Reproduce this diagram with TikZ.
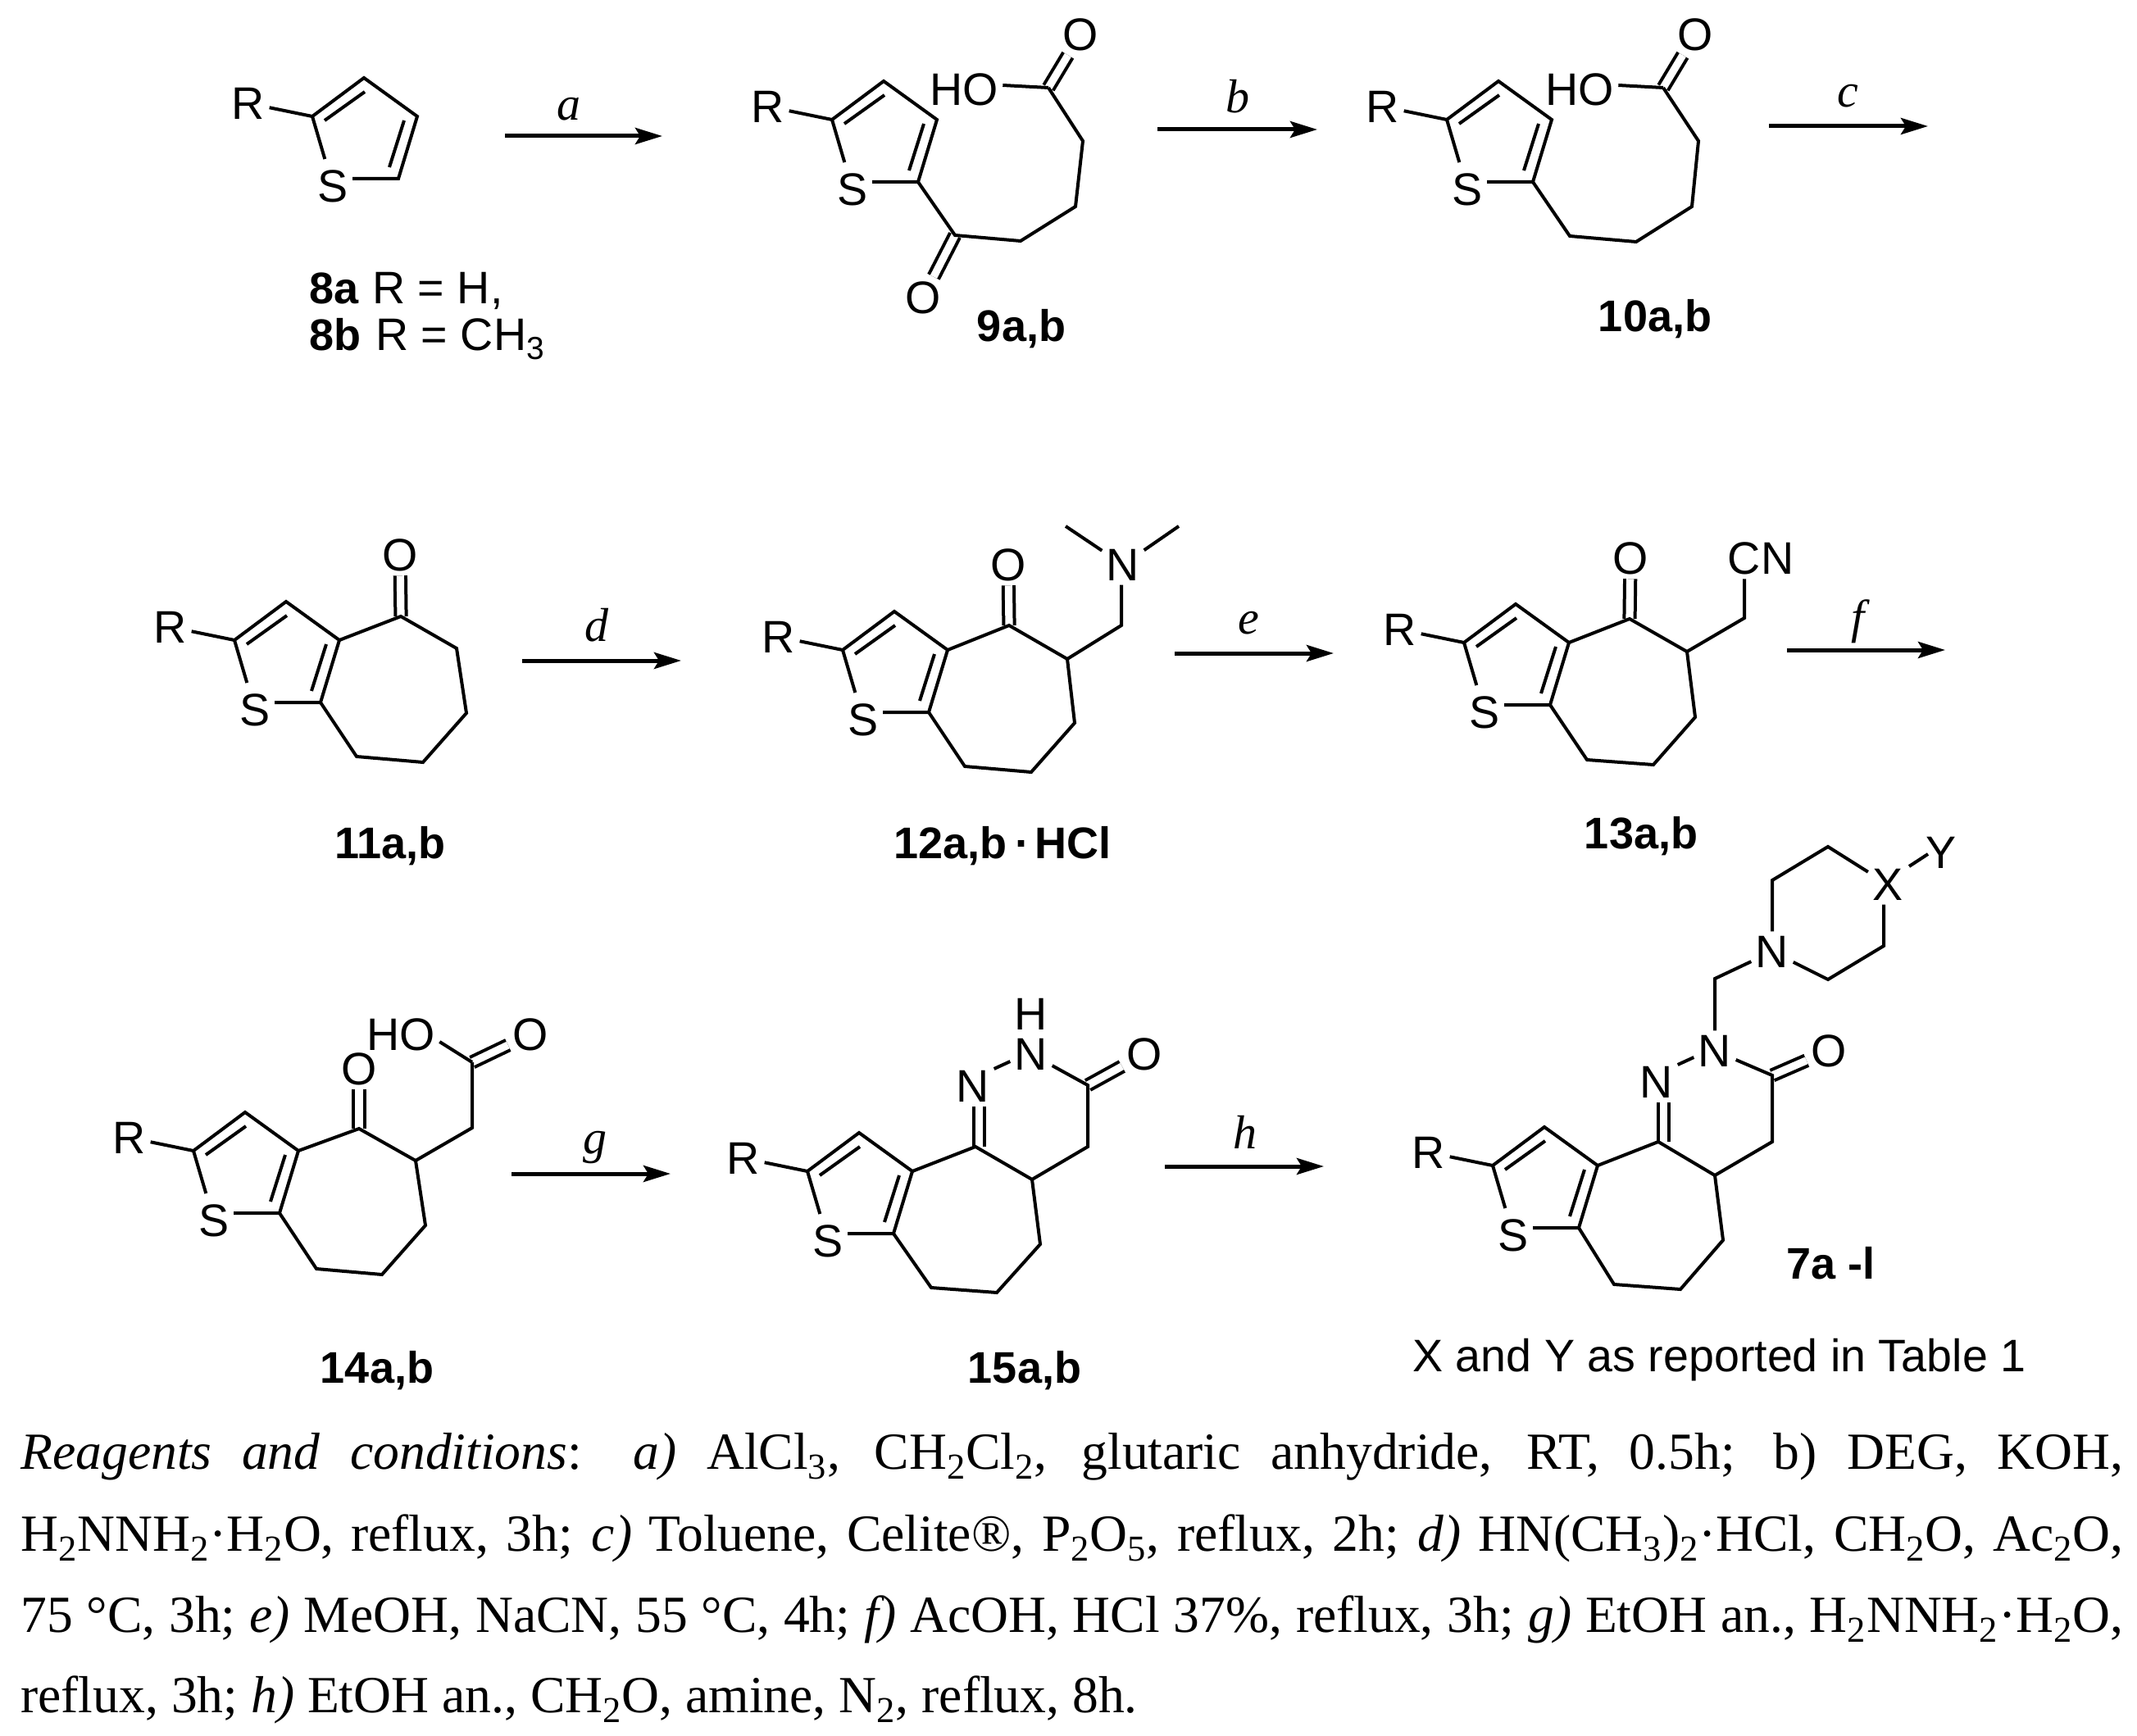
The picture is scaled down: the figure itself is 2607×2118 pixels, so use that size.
\documentclass[tikz,border=0pt]{standalone}
\usepackage{fontspec}
\setmainfont{Liberation Serif}
\newfontfamily\arialfam{Liberation Sans}
\usetikzlibrary{arrows.meta,calc}
\newcommand{\low}[1]{\textsubscript{#1}}
\tikzset{
  x=0.5pt,y=-0.5pt,
  bond/.style={line width=2pt,line cap=butt,line join=miter},
  dbl/.style={line width=2pt,double,double distance=4.6pt},
  atom/.style={inner sep=2.6pt,font=\fontsize{27.8pt}{30pt}\selectfont\arialfam},
  lbl/.style={inner sep=0pt,anchor=base,font=\fontsize{27pt}{30pt}\selectfont\arialfam\bfseries},
  plainlbl/.style={inner sep=0pt,anchor=base west,font=\fontsize{27.8pt}{30pt}\selectfont\arialfam},
  rxnarrow/.style={line width=2.5pt,-{Stealth[length=16.5pt,width=10pt,inset=3pt]}},
  rxnlabel/.style={inner sep=0pt,font=\fontsize{29pt}{30pt}\selectfont\itshape},
  capline/.style={inner sep=0pt,anchor=base west,font=\fontsize{31.8pt}{36pt}\selectfont}
}
% thiophene: prefix, position of C2
\newcommand{\thio}[3]{%
  \begin{scope}[shift={(#2,#3)}]
    \coordinate (#1c2) at (0,0);
    \coordinate (#1c3) at (63,-47);
    \coordinate (#1c4) at (128,0);
    \coordinate (#1c5) at (105,76);
    \coordinate (#1ia) at (15,5);
    \coordinate (#1ib) at (64,-30);
    \coordinate (#1ic) at (112,5);
    \coordinate (#1id) at (94,62);
    \node[atom] (#1r) at (-78,-16) {R};
    \node[atom] (#1s) at (25,85) {S};
    \draw[bond] (#1r) -- (#1c2);
    \draw[bond] (#1c2) -- (#1c3) -- (#1c4) -- (#1c5) -- (#1s.east |- #1c5);
    \draw[bond,shorten >=4pt] (#1c2) -- (#1s);
    \draw[bond] (#1ia) -- (#1ib);
    \draw[bond] (#1ic) -- (#1id);
  \end{scope}}
% reaction arrow: name, x1, x2, y, label, label x, label y
\newcommand{\rxn}[7]{%
  \coordinate (#1s) at (#2,#4);
  \coordinate (#1e) at (#3,#4);
  \draw[rxnarrow] (#1s) -- (#1e);
  \node[rxnlabel] (#1l) at (#6,#7) {#5};}
\begin{document}
\begin{tikzpicture}
\path[use as bounding box,fill=white] (0,0) rectangle (2607,2118);

% ---------- 8
\thio{h}{381}{142}
\node[lbl,anchor=base west] (l8a) at (377,371) {8a};
\node[plainlbl] (l8ar) at (454,371) {R = H,};
\node[lbl,anchor=base west] (l8b) at (377,428) {8b};
\node[plainlbl] (l8br) at (458,428) {R = CH\low{3}};
\rxn{ra}{616}{808}{166}{a}{694}{133}

% ---------- 9
\thio{i}{1015}{146}
\coordinate (ik) at (1165,287);
\coordinate (i1) at (1245,294);
\coordinate (i2) at (1312,252);
\coordinate (i3) at (1321,172);
\coordinate (ic) at (1279,107);
\node[atom] (io) at (1126,363) {O};
\node[atom] (io2) at (1318,42) {O};
\node[atom] (iho) at (1176,109) {HO};
\draw[dbl] (ik) -- (io);
\draw[dbl] (ic) -- (io2);
\draw[bond] (ic5) -- (ik) -- (i1) -- (i2) -- (i3) -- (ic);
\draw[bond] ([yshift=2.5pt]iho.east) -- (ic);
\node[lbl] (l9) at (1246,417) {9a,b};
\rxn{rb}{1412}{1607}{158}{b}{1510}{118}

% ---------- 10
\thio{j}{1765}{146}
\coordinate (j0) at (1915,288);
\coordinate (j1) at (1996,295);
\coordinate (j2) at (2064,252);
\coordinate (j3) at (2072,172);
\coordinate (jc) at (2029,107);
\node[atom] (jo2) at (2068,42) {O};
\node[atom] (jho) at (1927,109) {HO};
\draw[dbl] (jc) -- (jo2);
\draw[bond] (jc5) -- (j0) -- (j1) -- (j2) -- (j3) -- (jc);
\draw[bond] ([yshift=2.5pt]jho.east) -- (jc);
\node[lbl] (l10) at (2019,405) {10a,b};
\rxn{rc}{2158}{2352}{154}{c}{2254}{117}

% ---------- 11
\thio{k}{286}{781}
\coordinate (kk) at (489,752);
\coordinate (k1) at (557,791);
\coordinate (k2) at (569,870);
\coordinate (k3) at (516,930);
\coordinate (k4) at (435,923);
\node[atom] (ko) at (488,677) {O};
\draw[dbl] (kk) -- (ko);
\draw[bond] (kc4) -- (kk) -- (k1) -- (k2) -- (k3) -- (k4) -- (kc5);
\node[lbl] (l11) at (476,1047) {11a,b};
\rxn{rd}{637}{831}{806}{d}{728}{763}

% ---------- 12
\thio{m}{1028}{793}
\coordinate (mk) at (1231,763);
\coordinate (m1) at (1302,804);
\coordinate (m2) at (1311,882);
\coordinate (m3) at (1258,942);
\coordinate (m4) at (1177,935);
\coordinate (mch) at (1368,763);
\coordinate (mme1) at (1300,642);
\coordinate (mme2) at (1438,642);
\node[atom] (mo) at (1230,689) {O};
\node[atom] (mn) at (1370,689) {N};
\draw[dbl] (mk) -- (mo);
\draw[bond] (mc4) -- (mk) -- (m1) -- (m2) -- (m3) -- (m4) -- (mc5);
\draw[bond] (m1) -- (mch) -- (mch |- mn.south);
\draw[bond] (mn) -- (mme1);
\draw[bond] (mn) -- (mme2);
\node[lbl,anchor=base west] (l12) at (1090,1047) {12a,b\hspace{5pt}\textperiodcentered\hspace{3pt}HCl};
\rxn{re}{1433}{1627}{797}{e}{1523}{760}

% ---------- 13
\thio{n}{1786}{784}
\coordinate (nk) at (1988,755);
\coordinate (n1) at (2058,795);
\coordinate (n2) at (2068,875);
\coordinate (n3) at (2017,933);
\coordinate (n4) at (1936,927);
\coordinate (nch) at (2128,754);
\node[atom] (no) at (1989,681) {O};
\node[atom] (ncn) at (2148,681) {CN};
\draw[dbl] (nk) -- (no);
\draw[bond] (nc4) -- (nk) -- (n1) -- (n2) -- (n3) -- (n4) -- (nc5);
\draw[bond] (n1) -- (nch) -- (nch |- ncn.south);
\node[lbl] (l13) at (2002,1035) {13a,b};
\rxn{rf}{2180}{2373}{793}{f}{2267}{758}

% ---------- 14
\thio{p}{236}{1404}
\coordinate (pk) at (438,1377);
\coordinate (p1) at (507,1416);
\coordinate (p2) at (519,1495);
\coordinate (p3) at (466,1555);
\coordinate (p4) at (386,1548);
\coordinate (pch) at (576,1376);
\coordinate (pc) at (576,1296);
\node[atom] (po) at (438,1304) {O};
\node[atom] (pho) at (489,1262) {HO};
\node[atom] (po2) at (647,1262) {O};
\draw[dbl] (pk) -- (po);
\draw[dbl] (pc) -- (po2);
\draw[bond] (pc4) -- (pk) -- (p1) -- (p2) -- (p3) -- (p4) -- (pc5);
\draw[bond] (p1) -- (pch) -- (pc);
\draw[bond] ([yshift=-4.5pt]pho.east) -- (pc);
\node[lbl] (l14) at (460,1687) {14a,b};
\rxn{rg}{624}{818}{1432}{g}{726}{1400}

% ---------- 15
\thio{q}{985}{1429}
\coordinate (qk) at (1190,1399);
\coordinate (qd) at (1194.5,1399);
\coordinate (q1) at (1259,1439);
\coordinate (q2) at (1269,1518);
\coordinate (q3) at (1216,1577);
\coordinate (q4) at (1136,1571);
\coordinate (qch) at (1327,1399);
\coordinate (qc) at (1327,1324);
\node[atom] (qn1) at (1187,1325) {N};
\node[atom] (qn2) at (1258,1286) {N};
\node[atom] (qh) at (1258,1237) {H};
\node[atom] (qo) at (1396,1286) {O};
\draw[dbl] (qd) -- (qd |- qn1.south);
\draw[dbl] (qc) -- (qo);
\draw[bond] (qc4) -- (qk) -- (q1) -- (q2) -- (q3) -- (q4) -- (qc5);
\draw[bond] (q1) -- (qch) -- (qc) -- (qn2);
\draw[bond] ([yshift=10.5pt]qn1.east) -- ([yshift=-4.5pt]qn2.west);
\node[lbl] (l15) at (1250,1687) {15a,b};
\rxn{rh}{1421}{1615}{1423}{h}{1519}{1381}

% ---------- 7
\thio{t}{1821}{1422}
\coordinate (tk) at (2023,1393);
\coordinate (td) at (2029.5,1393);
\coordinate (t1) at (2092,1434);
\coordinate (t2) at (2102,1513);
\coordinate (t3) at (2050,1573);
\coordinate (t4) at (1969,1567);
\coordinate (tch) at (2162,1393);
\coordinate (tc) at (2162,1312);
\coordinate (tm) at (2092,1194);
\coordinate (ta) at (2162,1074);
\coordinate (tb) at (2230,1033);
\coordinate (te) at (2298,1154);
\coordinate (tf) at (2230,1195);
\coordinate (txa) at (2329,1057);
\coordinate (txb) at (2352,1042);
\node[atom] (tn1) at (2021,1320) {N};
\node[atom] (tn2) at (2092,1282) {N};
\node[atom] (to) at (2231,1282) {O};
\node[atom] (tn3) at (2162,1161) {N};
\node[atom] (tx) at (2303,1079) {X};
\node[atom] (ty) at (2368,1040) {Y};
\draw[dbl] (td) -- (td |- tn1.south);
\draw[dbl] (tc) -- (to);
\draw[bond] (tc4) -- (tk) -- (t1) -- (t2) -- (t3) -- (t4) -- (tc5);
\draw[bond] (t1) -- (tch) -- (tc) -- (tn2);
\draw[bond] ([yshift=10.5pt]tn1.east) -- ([yshift=-4pt]tn2.west);
\draw[bond] (tn2) -- (tm) -- (tn3);
\draw[bond] (tn3) -- (ta) -- (tb) -- (tx);
\draw[bond] (te |- tx.south) -- (te) -- (tf) -- (tn3);
\draw[bond] (txa) -- (txb);
\node[lbl,anchor=base west] (l7) at (2179,1560) {7a -l};
\node[plainlbl] (tbl) at (1723,1673) {X and Y as reported in Table 1};

% ---------- caption
\node[capline] (cap1) at (25,1792) {\hbox to 1282.5pt{\textit{Reagents and conditions}: \textit{a)} AlCl\low{3}, CH\low{2}Cl\low{2}, glutaric anhydride, RT, 0.5h; b) DEG, KOH,}};
\node[capline] (cap2) at (25,1892) {\hbox to 1282.5pt{H\low{2}NNH\low{2}·H\low{2}O, reflux, 3h; \textit{c)} Toluene, Celite®, P\low{2}O\low{5}, reflux, 2h; \textit{d)} HN(CH\low{3})\low{2}·HCl, CH\low{2}O, Ac\low{2}O,}};
\node[capline] (cap3) at (25,1991) {\hbox to 1282.5pt{75 °C, 3h; \textit{e)} MeOH, NaCN, 55 °C, 4h; \textit{f)} AcOH, HCl 37\%, reflux, 3h; \textit{g)} EtOH an., H\low{2}NNH\low{2}·H\low{2}O,}};
\node[capline] (cap4) at (25,2089) {reflux, 3h; \textit{h)} EtOH an., CH\low{2}O, amine, N\low{2}, reflux, 8h.};
\end{tikzpicture}
\end{document}
